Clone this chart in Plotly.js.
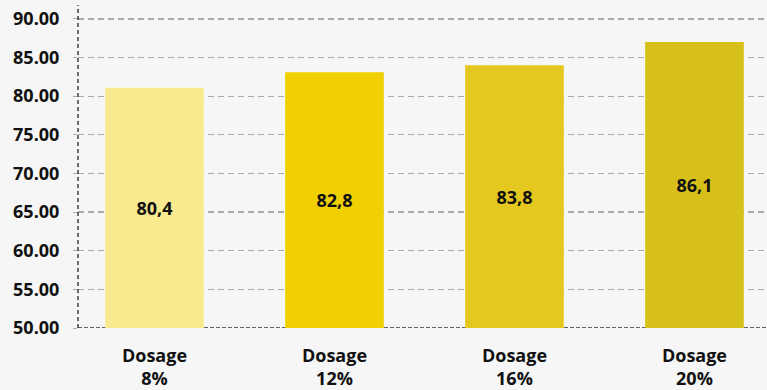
<!DOCTYPE html>
<html>
<head>
<meta charset="utf-8">
<script src="https://cdn.plot.ly/plotly-3.0.1.min.js"></script>
<style>
  html, body { margin: 0; padding: 0; background: #f6f6f6; }
  #chart { width: 767px; height: 390px; }
</style>
</head>
<body>
<div id="chart"></div>
<script>
const categories = ["Dosage<br>8%", "Dosage<br>12%", "Dosage<br>16%", "Dosage<br>20%"];
const values = [81.1, 83.1, 84.0, 87.0];
const valueLabels = ["80,4", "82,8", "83,8", "86,1"];
const barColors = ["#f9e98f", "#f0d000", "#e5c81f", "#d8c01a"];
const baseline = 50;

const FONT = "'Open Sans', 'Noto Sans', sans-serif";

const trace = {
  type: "bar",
  x: categories,
  y: values.map(v => v - baseline),
  base: baseline,
  text: valueLabels,
  textposition: "inside",
  insidetextanchor: "middle",
  textangle: 0,
  textfont: { family: FONT, size: 18, color: "#111111", weight: 700 },
  marker: { color: barColors, line: { width: 0 } },
  width: 0.548,
  hoverinfo: "none"
};

const layout = {
  width: 767,
  height: 390,
  margin: { l: 78, r: 0, t: 5, b: 62 },
  paper_bgcolor: "#f6f6f6",
  plot_bgcolor: "#f6f6f6",
  showlegend: false,
  font: { family: FONT, color: "#111111" },
  xaxis: {
    type: "category",
    range: [-0.425, 3.403],
    showgrid: false,
    showline: false,
    zeroline: false,
    ticks: "",
    ticklabelstandoff: 15,
    tickfont: { family: FONT, size: 18, color: "#111111", weight: 700 },
    fixedrange: true
  },
  yaxis: {
    range: [50, 91.8],
    tick0: 50,
    dtick: 5,
    tickformat: ".2f",
    showgrid: true,
    gridcolor: "#aaaaaa",
    gridwidth: 1.3,
    griddash: "6px,4px",
    zeroline: false,
    showline: false,
    ticks: "outside",
    ticklen: 4,
    tickcolor: "#aaaaaa",
    ticklabelstandoff: 10,
    tickfont: { family: FONT, size: 18, color: "#111111", weight: 700 },
    fixedrange: true
  },
  shapes: [
    {
      type: "line", xref: "paper", yref: "paper",
      x0: 0, x1: 0, y0: 0, y1: 1,
      line: { color: "#222222", width: 1.3, dash: "4px,3px" },
      layer: "above"
    },
    {
      type: "line", xref: "paper", yref: "y",
      x0: 0, x1: 1, y0: baseline, y1: baseline,
      line: { color: "#333333", width: 1.5, dash: "4px,2px" },
      layer: "below"
    }
  ]
};

Plotly.newPlot("chart", [trace], layout, { displayModeBar: false, staticPlot: true });
</script>
</body>
</html>
